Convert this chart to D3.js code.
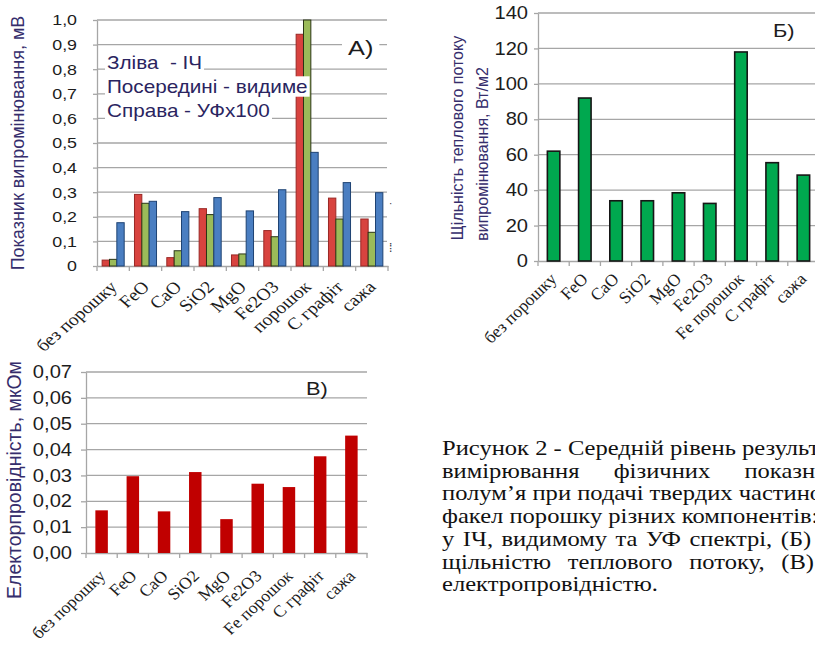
<!DOCTYPE html>
<html>
<head>
<meta charset="utf-8">
<script src="https://cdn.jsdelivr.net/npm/d3@7"></script>
<style>
  html, body { margin: 0; padding: 0; background: #fff; }
  svg { display: block; }
  text { white-space: pre; }
</style>
</head>
<body>
<svg id="fig" width="815" height="646"></svg>
<script>
// Powder fed into the flame
const categories = ["без порошку", "FeO", "CaO", "SiO2", "MgO", "Fe2O3", "Fe порошок", "С графіт", "сажа"];
const categoriesA = ["без порошку", "FeO", "CaO", "SiO2", "MgO", "Fe2O3", "порошок", "С графіт", "сажа"];

// А) emission index, mV (IR, visible, UV x100)
const emissionIR      = [0.024, 0.291, 0.034, 0.233, 0.045, 0.144, 0.942, 0.276, 0.191];
const emissionVisible = [0.027, 0.255, 0.062, 0.209, 0.049, 0.119, 1.000, 0.191, 0.137];
const emissionUV      = [0.176, 0.263, 0.221, 0.278, 0.224, 0.310, 0.462, 0.339, 0.298];

// Б) heat flux density of radiation, W/m2
const heatFlux = [62, 92, 34, 34, 38.5, 32.5, 118, 55.5, 48.5];

// В) electrical conductivity
const conductivity = [0.0165, 0.0297, 0.0161, 0.0313, 0.0131, 0.0268, 0.0255, 0.0374, 0.0454];

// Tick values
const ticksA = [0, 0.1, 0.2, 0.3, 0.4, 0.5, 0.6, 0.7, 0.8, 0.9, 1.0];
const ticksB = [0, 20, 40, 60, 80, 100, 120, 140];
const ticksC = [0, 0.01, 0.02, 0.03, 0.04, 0.05, 0.06, 0.07];

// Text
const legendA = ["Зліва  - ІЧ", "Посередині - видиме", "Справа - УФх100"];
const titleA = "Показник випромінювання, мВ";
const titleB = ["Щільність теплового потоку", "випромінювання, Вт/м2"];
const titleC = "Електорпровідність, мкОм";
const captionLines = [
  "Рисунок 2 - Середній рівень результатів",
  "вимірювання фізичних показників",
  "полум’я при подачі твердих частинок у",
  "факел порошку різних компонентів: (А)",
  "у ІЧ, видимому та УФ спектрі, (Б)",
  "щільністю теплового потоку, (В)",
  "електропровідністю."
];
const captionWordSpacing = [0, 24, 0, 0, 2, 9, 0];

const SANS = "'Liberation Sans', Arial, sans-serif";
const SERIF = "'Liberation Serif', 'Times New Roman', serif";
const SX = 1.15;           // horizontal widening of upright text
const GRID = "#a6a6a6";
const TXT = "#1c1c1c";
const TITLE = "#352d6c";

const svg = d3.select("#fig");
svg.append("rect").attr("width", 815).attr("height", 646).attr("fill", "#fff");

const fmtComma = d => d === 0 ? "0" : d3.format(".1f")(d).replace(".", ",");
const fmtComma2 = d => d3.format(".2f")(d).replace(".", ",");

// Upright text, widened horizontally
function hText(g, x, y, str, size, fill, anchor, family, sx) {
  return g.append("text")
    .attr("transform", `translate(${x},${y}) scale(${sx || SX},1)`)
    .attr("text-anchor", anchor || "start")
    .attr("font-family", family || SANS)
    .attr("font-size", size)
    .attr("fill", fill)
    .text(str);
}

// White box behind a text element
function backdrop(g, textSel, pad) {
  const node = textSel.node();
  const b = node.getBBox();
  const m = node.getCTM();
  const gm = g.node().getCTM().inverse();
  const p0 = svg.node().createSVGPoint(); p0.x = b.x; p0.y = b.y;
  const p1 = svg.node().createSVGPoint(); p1.x = b.x + b.width; p1.y = b.y + b.height;
  const a = p0.matrixTransform(m).matrixTransform(gm);
  const c = p1.matrixTransform(m).matrixTransform(gm);
  g.insert("rect", () => node)
    .attr("x", a.x - pad).attr("y", a.y)
    .attr("width", c.x - a.x + 2 * pad).attr("height", c.y - a.y)
    .attr("fill", "#fff");
}

// Common frame: gridlines, axes, category ticks, rotated labels
function frame(opt) {
  const g = svg.append("g");
  const x = d3.scaleBand().domain(opt.cats).range([opt.x0, opt.x1]).padding(0);
  const y = d3.scaleLinear().domain([0, opt.max]).range([opt.yBottom, opt.yTop]);

  g.append("g").selectAll("line")
    .data(opt.ticks.filter(t => t > 0))
    .join("line")
    .attr("x1", opt.x0).attr("x2", opt.gridEnd)
    .attr("y1", d => y(d)).attr("y2", d => y(d))
    .attr("stroke", GRID).attr("stroke-width", 1.3);

  const ya = g.append("g")
    .attr("transform", `translate(${opt.x0},0)`)
    .call(d3.axisLeft(y).tickValues(opt.ticks).tickFormat(opt.fmt).tickSize(opt.tickLen).tickSizeOuter(0));
  ya.select(".domain").attr("stroke", GRID).attr("stroke-width", 1.3);
  ya.selectAll(".tick line").attr("stroke", GRID).attr("stroke-width", 1.3);
  ya.selectAll(".tick text")
    .attr("x", -opt.labelGap / SX)
    .attr("transform", `scale(${SX},1)`)
    .attr("font-family", SANS).attr("font-size", opt.tickSize)
    .attr("fill", TXT);

  const xa = g.append("g")
    .attr("transform", `translate(0,${opt.yBottom})`)
    .call(d3.axisBottom(x).tickSize(0).tickFormat(""));
  xa.select(".domain").attr("stroke", GRID).attr("stroke-width", 1.3);

  const bounds = opt.cats.map(c => x(c)).concat([opt.x1]);
  g.append("g").selectAll("line").data(bounds).join("line")
    .attr("x1", d => d).attr("x2", d => d)
    .attr("y1", opt.yBottom).attr("y2", opt.yBottom + 5)
    .attr("stroke", GRID).attr("stroke-width", 1.3);

  g.append("g").selectAll("text").data(opt.cats).join("text")
    .attr("transform", d => `translate(${x(d) + x.bandwidth() / 2 + opt.lblDx},${opt.yBottom + opt.lblDy}) scale(${opt.lblSx},1) rotate(-45)`)
    .attr("text-anchor", "end")
    .attr("font-family", SERIF).attr("font-size", opt.lblSize)
    .attr("fill", TXT)
    .text(d => d);

  return { g, x, y };
}

// ---------- А) emission index ----------
{
  const f = frame({
    cats: categoriesA, x0: 97, x1: 388, gridEnd: 387, yTop: 20, yBottom: 266, max: 1.0,
    ticks: ticksA, fmt: fmtComma, tickLen: 4, labelGap: 20, tickSize: 15.5,
    lblDx: 5, lblDy: 22, lblSize: 17, lblSx: 1.15
  });
  const series = [
    { values: emissionIR, fill: "#d8433f", stroke: "#9a2825" },
    { values: emissionVisible, fill: "#9bbb59", stroke: "#2b3516" },
    { values: emissionUV, fill: "#4a7ec1", stroke: "#1f4373" }
  ];
  const inner = d3.scaleBand().domain(d3.range(series.length))
    .range([0, f.x.bandwidth()]).paddingInner(0).paddingOuter(0.7);
  series.forEach((s, si) => {
    f.g.append("g").selectAll("rect").data(s.values).join("rect")
      .attr("x", (d, i) => f.x(categoriesA[i]) + inner(si))
      .attr("width", inner.bandwidth())
      .attr("y", d => f.y(d))
      .attr("height", d => f.y(0) - f.y(d))
      .attr("fill", s.fill).attr("stroke", s.stroke).attr("stroke-width", 1);
  });

  legendA.forEach((line, i) => {
    const t = hText(f.g, 107, 69 + i * 24, line, 18, "#2a2460");
    backdrop(f.g, t, 2);
  });
  const lbl = hText(f.g, 348, 55, "А)", 19.5, "#1c1c1c", "start", SANS, 1.3);
  backdrop(f.g, lbl, 6);

  f.g.append("text")
    .attr("transform", "translate(24,143) rotate(-90)")
    .attr("text-anchor", "middle")
    .attr("font-family", SANS).attr("font-size", 18)
    .attr("fill", TITLE)
    .text(titleA);

  // fragments of a cut-off label at the right edge
  f.g.append("text").attr("x", 389).attr("y", 207).attr("font-family", SANS)
    .attr("font-size", 10).attr("fill", "#333").text("·");
  f.g.append("text").attr("x", 389).attr("y", 252).attr("font-family", SANS)
    .attr("font-size", 12).attr("fill", "#333").text("⁞");
}

// ---------- Б) heat flux ----------
{
  const f = frame({
    cats: categories, x0: 538, x1: 819, gridEnd: 815, yTop: 13, yBottom: 261, max: 140,
    ticks: ticksB, fmt: d => String(d), tickLen: 4, labelGap: 10, tickSize: 17.5,
    lblDx: 4, lblDy: 19, lblSize: 17, lblSx: 1.03
  });
  const bx = d3.scaleBand().domain(categories).range([538, 819]).paddingInner(0.6).paddingOuter(0.3);
  f.g.append("g").selectAll("rect").data(heatFlux).join("rect")
    .attr("x", (d, i) => bx(categories[i]))
    .attr("width", bx.bandwidth())
    .attr("y", d => f.y(d))
    .attr("height", d => f.y(0) - f.y(d))
    .attr("fill", "#00a84f").attr("stroke", "#161616").attr("stroke-width", 1.6);

  hText(f.g, 773, 37, "Б)", 19, "#1c1c1c");

  titleB.forEach((line, i) => {
    f.g.append("text")
      .attr("transform", `translate(${463 + i * 25},${138 + i * 16}) rotate(-90)`)
      .attr("text-anchor", "middle")
      .attr("font-family", SANS).attr("font-size", 16)
      .attr("fill", TITLE)
      .text(line);
  });
}

// ---------- В) conductivity ----------
{
  const f = frame({
    cats: categories, x0: 86, x1: 367, gridEnd: 367, yTop: 372, yBottom: 553, max: 0.07,
    ticks: ticksC, fmt: fmtComma2, tickLen: 5, labelGap: 14, tickSize: 17.5,
    lblDx: 5, lblDy: 24, lblSize: 16.5, lblSx: 1.08
  });
  const bx = d3.scaleBand().domain(categories).range([86, 367]).paddingInner(0.6).paddingOuter(0.3);
  f.g.append("g").selectAll("rect").data(conductivity).join("rect")
    .attr("x", (d, i) => bx(categories[i]))
    .attr("width", bx.bandwidth())
    .attr("y", d => f.y(d))
    .attr("height", d => f.y(0) - f.y(d))
    .attr("fill", "#c00000");

  hText(f.g, 306, 395, "В)", 19, "#1c1c1c");

  f.g.append("text")
    .attr("transform", "translate(21,480) rotate(-90)")
    .attr("text-anchor", "middle")
    .attr("font-family", SANS).attr("font-size", 19.5)
    .attr("fill", TITLE)
    .text(titleC);
}

// ---------- caption ----------
{
  const g = svg.append("g");
  captionLines.forEach((line, i) => {
    g.append("text")
      .attr("transform", `translate(442,${455 + i * 22.7}) scale(1.17,1)`)
      .attr("font-family", SERIF).attr("font-size", 21)
      .attr("fill", "#111")
      .style("word-spacing", captionWordSpacing[i] + "px")
      .text(line);
  });
}
</script>
</body>
</html>
